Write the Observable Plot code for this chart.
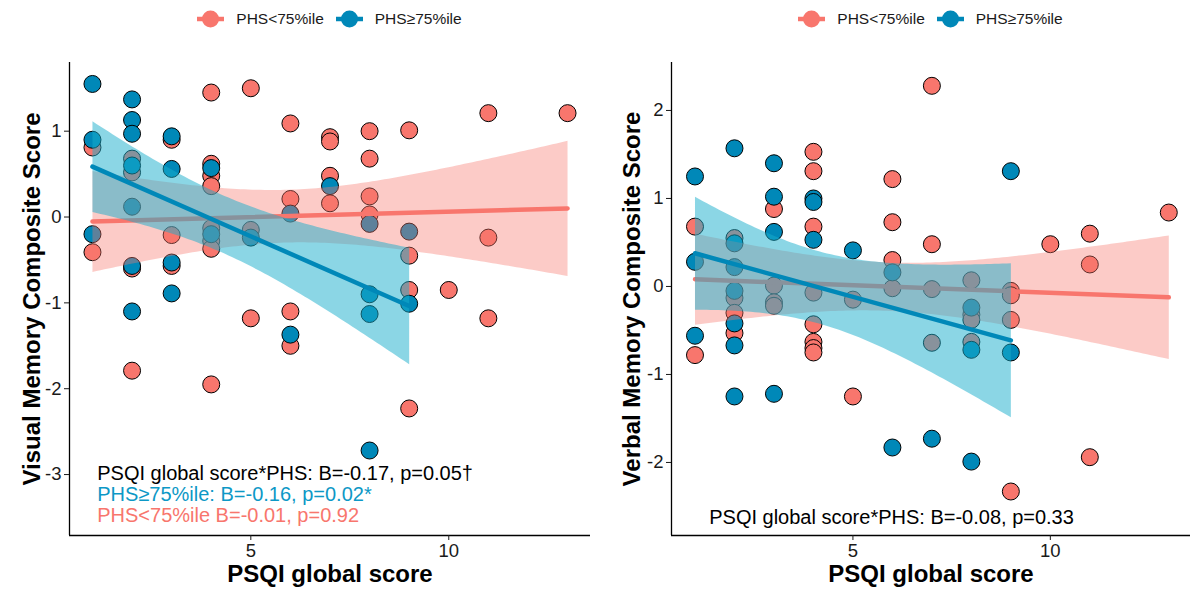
<!DOCTYPE html>
<html><head><meta charset="utf-8">
<script src="https://cdn.jsdelivr.net/npm/d3@7"></script>
<script src="https://cdn.jsdelivr.net/npm/@observablehq/plot@0.6"></script>
<style>
body{margin:0;background:#fff;font-family:"Liberation Sans",Arial,sans-serif;}
#wrap{display:flex;width:1190px;height:602px;overflow:hidden;}
.panel{width:595px;height:602px;position:relative;flex:none;}
.legend{position:absolute;top:0;height:37px;display:flex;justify-content:center;align-items:center;font-size:15.5px;color:#1a1a1a;}
.item{display:flex;align-items:center;margin:0 6px;}
.item svg{margin-right:12px;}
.panel svg.plot{position:absolute;top:36px;left:0;}
</style></head>
<body><div id="wrap"></div>
<script>
// ---- data ----
const groups = ["PHS<75%ile", "PHS≥75%ile"];
const xTicks = [5, 10];
const visYTicks = [-3, -2, -1, 0, 1];
const verYTicks = [-2, -1, 0, 1, 2];

// Visual memory, PHS<75%ile
const visLowX = [1,1, 2,2,2,2, 3,3,3, 4,4,4,4,4,4,4,4, 5,5,5, 6,6,6,6, 7,7,7,7, 8,8,8,8, 9,9,9,9, 10, 11,11,11, 13];
const visLowY = [0.81,-0.41, 0.68,0.52,-0.6,-1.79, 0.9,-0.21,-0.57, 1.45,0.62,0.48,0.36,-0.13,-0.28,-0.37,-1.95, 1.5,-0.15,-1.18, 1.09,0.21,-1.1,-1.5, 0.93,0.88,0.48,0.16, 1.0,0.68,0.24,0.03, 1.01,-0.45,-0.85,-2.23, -0.85, 1.21,-0.24,-1.18, 1.21];
// Visual memory, PHS≥75%ile
const visHighX = [1,1,1, 2,2,2,2,2,2,2, 3,3,3,3, 4,4, 5, 6,6, 7, 8,8,8,8, 9,9];
const visHighY = [1.55,0.9,-0.2, 1.37,1.13,0.97,0.6,0.12,-0.57,-1.1, 0.94,0.56,-0.53,-0.89, 0.57,-0.2, -0.24, 0.04,-1.37, 0.36, -0.08,-0.9,-1.13,-2.72, -0.17,-1.01];

// Verbal memory, PHS<75%ile
const verLowX = [1,1, 2,2,2,2, 3,3,3,3, 4,4,4,4,4,4,4,4, 5,5, 6,6,6,6, 7,7,7,7, 8,8,8,8, 9,9,9,9, 10, 11,11,11, 13];
const verLowY = [0.68,-0.78, 0.55,-0.13,-0.3,-0.53, 0.88,0.01,-0.18,-0.22, 1.53,1.31,0.68,-0.07,-0.43,-0.63,-0.7,-0.75, -0.15,-1.25, 1.22,0.73,0.3,-0.02, 2.28,0.48,-0.03,-0.64, 0.07,-0.32,-0.38,-0.63, -0.05,-0.1,-0.38,-2.33, 0.48, 0.6,0.25,-1.94, 0.84];
// Verbal memory, PHS≥75%ile
const verHighX = [1,1,1, 2,2,2,2,2,2,2, 3,3,3,3, 4,4,4, 5, 6,6, 7, 8,8,8, 9,9];
const verHighY = [1.25,0.28,-0.56, 1.57,0.49,0.22,-0.05,-0.42,-0.67,-1.25, 1.4,1.02,0.62,-1.22, 1.0,0.96,0.53, 0.41, 0.16,-1.83, -1.73, -0.24,-0.72,-1.99, 1.31,-0.75];

const visAnnot = ["PSQI global score*PHS: B=-0.17, p=0.05†", "PHS≥75%ile: B=-0.16, p=0.02*", "PHS<75%ile B=-0.01, p=0.92"];
const verAnnot = ["PSQI global score*PHS: B=-0.08, p=0.33"];
const xTitle = "PSQI global score";
const visTitle = "Visual Memory Composite Score";
const verTitle = "Verbal Memory Composite Score";

// ---- styles ----
const SALMON = "#F8766D", BLUE = "#0088B8", CYAN = "#18AECB", BLUE_TEXT = "#0D98C6";
const FONT = "Liberation Sans, Arial, Helvetica, sans-serif";

const rows = (xs, ys) => xs.map((x, i) => ({x, y: ys[i]}));

function panel(cfg) {
  const low = rows(cfg.lowX, cfg.lowY), high = rows(cfg.highX, cfg.highY);
  const marks = [
    Plot.dot(low, {x: "x", y: "y", r: 8.5, fill: SALMON, stroke: "black", strokeWidth: 1}),
    Plot.dot(high, {x: "x", y: "y", r: 8.5, fill: BLUE, stroke: "black", strokeWidth: 1}),
    Plot.linearRegressionY(low, {x: "x", y: "y", stroke: SALMON, fill: SALMON, fillOpacity: 0.38, strokeWidth: 4.5}),
    Plot.linearRegressionY(high, {x: "x", y: "y", stroke: BLUE, fill: CYAN, fillOpacity: 0.5, strokeWidth: 4.5}),
    Plot.ruleX([cfg.xDomain[0]], {stroke: "black", strokeWidth: 1.3}),
    Plot.ruleY([cfg.yDomain[0]], {stroke: "black", strokeWidth: 1.3}),
    Plot.axisX({ticks: xTicks, tickSize: 5, tickPadding: 3, fontSize: 18.5, label: null, tickFormat: d => String(d)}),
    Plot.axisY({ticks: cfg.yTicks, tickSize: 5, tickPadding: 3, fontSize: 18.5, label: null, tickFormat: d => String(d)}),
    Plot.text([xTitle], {frameAnchor: "bottom", dy: 46.5, text: d => d, fontSize: 24, fontWeight: "bold", fill: "black"}),
    Plot.text([cfg.title], {frameAnchor: "left", dx: cfg.titleDx, rotate: -90, textAnchor: "middle", text: d => d, fontSize: 24, fontWeight: "bold", fill: "black"})
  ];
  cfg.annot.forEach((t, i) => {
    marks.push(Plot.text([t], {x: cfg.annotX, y: cfg.annotY[i], text: d => d, textAnchor: "start", fontSize: 20, fill: cfg.annotColors[i]}));
  });
  const svg = Plot.plot({
    width: 595, height: 566,
    marginLeft: cfg.marginLeft, marginRight: cfg.marginRight, marginTop: 26, marginBottom: 67,
    x: {domain: cfg.xDomain},
    y: {domain: cfg.yDomain},
    style: {fontFamily: FONT, background: "transparent", color: "#1a1a1a", overflow: "visible"},
    marks
  });
  svg.classList.add("plot");
  const div = document.createElement("div");
  div.className = "panel";
  const leg = document.createElement("div");
  leg.className = "legend";
  leg.style.left = cfg.marginLeft + "px";
  leg.style.width = (595 - cfg.marginLeft - cfg.marginRight) + "px";
  [SALMON, BLUE].forEach((c, i) => {
    const it = document.createElement("div");
    it.className = "item";
    it.innerHTML = `<svg width="27" height="18"><line x1="0" x2="27" y1="9" y2="9" stroke="${c}" stroke-width="4.5"/><circle cx="13.5" cy="9" r="8.5" fill="${c}"/></svg><span>${groups[i]}</span>`;
    leg.appendChild(it);
  });
  div.appendChild(svg);
  div.appendChild(leg);
  return div;
}

const wrap = document.getElementById("wrap");
wrap.appendChild(panel({
  lowX: visLowX, lowY: visLowY, highX: visHighX, highY: visHighY,
  xDomain: [0.42, 13.58], yDomain: [-3.71, 1.80], yTicks: visYTicks,
  marginLeft: 69, marginRight: 5, title: visTitle, titleDx: -37,
  annot: visAnnot, annotX: 1.12, annotY: [-2.99, -3.235, -3.48], annotColors: ["black", BLUE_TEXT, SALMON]
}));
wrap.appendChild(panel({
  lowX: verLowX, lowY: verLowY, highX: verHighX, highY: verHighY,
  xDomain: [0.405, 13.55], yDomain: [-2.83, 2.545], yTicks: verYTicks,
  marginLeft: 76, marginRight: 0, title: verTitle, titleDx: -39,
  annot: verAnnot, annotX: 1.36, annotY: [-2.625], annotColors: ["black"]
}));
</script></body></html>
